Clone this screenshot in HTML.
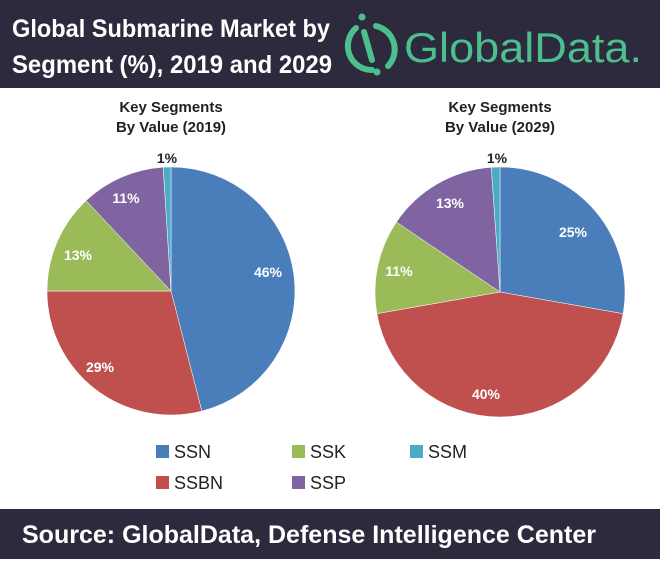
<!DOCTYPE html>
<html><head><meta charset="utf-8"><style>
body{margin:0;width:660px;height:559px;background:#fff;overflow:hidden;font-family:"Liberation Sans",sans-serif}
</style></head><body>
<svg width="660" height="559" viewBox="0 0 660 559" xmlns="http://www.w3.org/2000/svg" font-family="Liberation Sans, sans-serif">
<rect x="0" y="0" width="660" height="88" fill="#2d2a3d"/>
<text x="12" y="37" fill="#fff" font-size="25" font-weight="bold" textLength="318" lengthAdjust="spacingAndGlyphs">Global Submarine Market by</text>
<text x="12" y="73" fill="#fff" font-size="25" font-weight="bold" textLength="320" lengthAdjust="spacingAndGlyphs">Segment (%), 2019 and 2029</text>
<g fill="none" stroke="#4cbf8f" stroke-width="6" stroke-linecap="round">
<path d="M356 28 A24 24 0 0 0 372 70"/>
<path d="M376 26 A24 24 0 0 1 388 66"/>
<line x1="364" y1="32" x2="372" y2="60"/>
</g>
<circle cx="362" cy="17" r="3.5" fill="#4cbf8f"/><circle cx="377" cy="72" r="3.5" fill="#4cbf8f"/>
<text x="404" y="62" fill="#4cbf8f" font-size="42" textLength="238" lengthAdjust="spacingAndGlyphs">GlobalData.</text>

<text x="171" y="112" text-anchor="middle" font-size="15" font-weight="bold" fill="#222">Key Segments</text>
<text x="171" y="132" text-anchor="middle" font-size="15" font-weight="bold" fill="#222">By Value (2019)</text>
<text x="500" y="112" text-anchor="middle" font-size="15" font-weight="bold" fill="#222">Key Segments</text>
<text x="500" y="132" text-anchor="middle" font-size="15" font-weight="bold" fill="#222">By Value (2029)</text>

<g stroke="#fff" stroke-width="0.5">
<path d="M171 291 L171 167 A124 124 0 0 1 201.8 411.1Z" fill="#4a7ebb"/>
<path d="M171 291 L201.8 411.1 A124 124 0 0 1 47 291Z" fill="#c0504d"/>
<path d="M171 291 L47 291 A124 124 0 0 1 86.1 200.6Z" fill="#9bbb59"/>
<path d="M171 291 L86.1 200.6 A124 124 0 0 1 163.2 167.2Z" fill="#8064a2"/>
<path d="M171 291 L163.2 167.2 A124 124 0 0 1 171 167Z" fill="#4bacc6"/>

<path d="M500 292 L500 167 A125 125 0 0 1 623.1 313.7Z" fill="#4a7ebb"/>
<path d="M500 292 L623.1 313.7 A125 125 0 0 1 376.9 313.7Z" fill="#c0504d"/>
<path d="M500 292 L376.9 313.7 A125 125 0 0 1 396.4 222.1Z" fill="#9bbb59"/>
<path d="M500 292 L396.4 222.1 A125 125 0 0 1 491.3 167.3Z" fill="#8064a2"/>
<path d="M500 292 L491.3 167.3 A125 125 0 0 1 500 167Z" fill="#4bacc6"/>
</g>
<g font-size="14" font-weight="bold" fill="#fff" text-anchor="middle">
<text x="268" y="277">46%</text>
<text x="100" y="372">29%</text>
<text x="78" y="260">13%</text>
<text x="126" y="203">11%</text>
<text x="573" y="237">25%</text>
<text x="486" y="399">40%</text>
<text x="399" y="276">11%</text>
<text x="450" y="208">13%</text>
</g>
<text x="167" y="163" font-size="14" font-weight="bold" fill="#222" text-anchor="middle">1%</text>
<text x="497" y="163" font-size="14" font-weight="bold" fill="#222" text-anchor="middle">1%</text>

<g font-size="18" fill="#222">
<rect x="156" y="445" width="13" height="13" fill="#4a7ebb"/><text x="174" y="458">SSN</text>
<rect x="292" y="445" width="13" height="13" fill="#9bbb59"/><text x="310" y="458">SSK</text>
<rect x="410" y="445" width="13" height="13" fill="#4bacc6"/><text x="428" y="458">SSM</text>
<rect x="156" y="476" width="13" height="13" fill="#c0504d"/><text x="174" y="489">SSBN</text>
<rect x="292" y="476" width="13" height="13" fill="#8064a2"/><text x="310" y="489">SSP</text>
</g>
<rect x="0" y="509" width="660" height="50" fill="#2d2a3d"/>
<text x="22" y="543" fill="#fff" font-size="25" font-weight="bold" textLength="574" lengthAdjust="spacingAndGlyphs">Source:  GlobalData, Defense Intelligence Center</text>
</svg>
</body></html>
